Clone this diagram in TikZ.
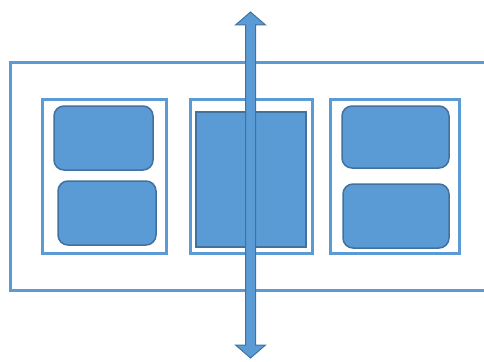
\documentclass[tikz,border=0pt]{standalone}
\usepackage{xcolor}
\usetikzlibrary{calc}

\definecolor{slotfill}{HTML}{5B9BD5}
\definecolor{slotline}{HTML}{41719C}

\tikzset{
  frame/.style={draw=slotfill, line width=2.5pt, fill=white, inner sep=0pt},
  panel/.style={frame, line width=3pt},
  slot/.style={draw=slotline, fill=slotfill, line width=1.5pt, rounded corners=10pt, inner sep=0pt},
  block/.style={slot, rounded corners=0pt},
  axisarrow/.style={draw=slotline, fill=slotfill, line width=1pt, line join=miter},
}

\begin{document}
\begin{tikzpicture}[x=1pt, y=-1pt]
        \useasboundingbox (0,0) rectangle (484,361);
        \clip (0,0) rectangle (484,361);

        \node[frame, anchor=north west, minimum width=500pt, minimum height=228pt] (rack) at (9,61) {};

        \node[panel, minimum width=124pt, minimum height=154pt] (left)  at (104,176)   {};
        \node[panel, minimum width=122pt, minimum height=154pt] (mid)   at (251,176)   {};
        \node[panel, minimum width=129pt, minimum height=154pt] (right) at (394.5,176) {};

        \node[slot, minimum width=99pt,  minimum height=64pt] (lefttop) at (103.5,138) {};
        \node[slot, minimum width=98pt,  minimum height=64pt] (leftbot) at (107,213)   {};
        \node[block, minimum width=110pt, minimum height=135pt] (midblk) at (251,179.5) {};
        \node[slot, minimum width=107pt, minimum height=62pt] (righttop) at (395.5,137) {};
        \node[slot, minimum width=106pt, minimum height=64pt] (rightbot) at (396,216)   {};

        % two-headed arrow through the middle
        \coordinate (top) at (250.5,12);
        \coordinate (bot) at (250.5,358);
        \draw[axisarrow] (top) -- ++(15,13) -- ++(-10,0) -- ($(bot)+(5,-13)$) -- ++(10,0)
              -- (bot) -- ++(-15,-13) -- ++(10,0) -- ($(top)+(-5,13)$) -- ++(-10,0) -- cycle;

\end{tikzpicture}
\end{document}
